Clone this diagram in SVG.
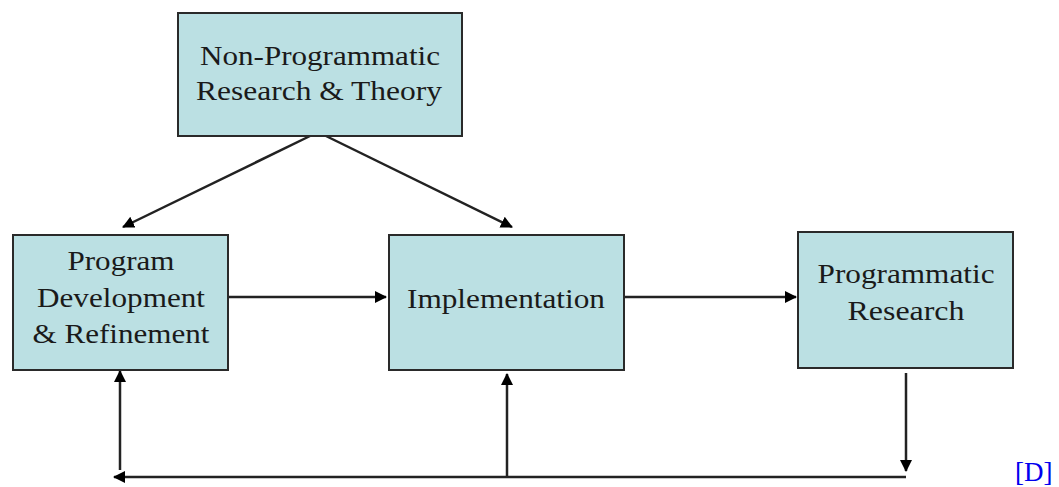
<svg xmlns="http://www.w3.org/2000/svg" width="1059" height="487" viewBox="0 0 1059 487">
<style>
.box{fill:#BBE0E3;stroke:#2a2a2a;stroke-width:2}
.lbl{font-family:"Liberation Serif","DejaVu Serif",serif;font-size:28px;fill:#1a1a1a;text-anchor:middle}
.ln{stroke:#222;stroke-width:2.5;fill:none}
</style>
<defs>
<marker id="ah" viewBox="0 0 12 12" refX="11" refY="6" markerWidth="12" markerHeight="12" markerUnits="userSpaceOnUse" orient="auto">
<path d="M0,0 L12,6 L0,12 Z" fill="#000"/>
</marker>
</defs>
<rect width="1059" height="487" fill="#fff"/>
<g id="connectors">
<line class="ln" x1="310" y1="136" x2="123" y2="227" marker-end="url(#ah)"/>
<line class="ln" x1="326" y1="136" x2="512" y2="227" marker-end="url(#ah)"/>
<line class="ln" x1="228" y1="297" x2="386" y2="297" marker-end="url(#ah)"/>
<line class="ln" x1="624" y1="297" x2="796" y2="297" marker-end="url(#ah)"/>
<line class="ln" x1="906" y1="373" x2="906" y2="471" marker-end="url(#ah)"/>
<line class="ln" x1="906" y1="477" x2="114" y2="477" marker-end="url(#ah)"/>
<line class="ln" x1="120" y1="470" x2="120" y2="371" marker-end="url(#ah)"/>
<line class="ln" x1="507" y1="477" x2="507" y2="374" marker-end="url(#ah)"/>
</g>
<g id="n1">
<rect class="box" x="178" y="13" width="284" height="123"/>
<text class="lbl" x="320" y="65" textLength="240" lengthAdjust="spacingAndGlyphs">Non-Programmatic</text>
<text class="lbl" x="319" y="100" textLength="246" lengthAdjust="spacingAndGlyphs">Research &amp; Theory</text>
</g>
<g id="n2">
<rect class="box" x="13" y="235" width="215" height="135"/>
<text class="lbl" x="121" y="270" textLength="107" lengthAdjust="spacingAndGlyphs">Program</text>
<text class="lbl" x="121" y="307" textLength="168" lengthAdjust="spacingAndGlyphs">Development</text>
<text class="lbl" x="121" y="343" textLength="177" lengthAdjust="spacingAndGlyphs">&amp; Refinement</text>
</g>
<g id="n3">
<rect class="box" x="389" y="235" width="235" height="135"/>
<text class="lbl" x="506" y="308" textLength="198" lengthAdjust="spacingAndGlyphs">Implementation</text>
</g>
<g id="n4">
<rect class="box" x="798" y="232" width="215" height="136"/>
<text class="lbl" x="906" y="283" textLength="177" lengthAdjust="spacingAndGlyphs">Programmatic</text>
<text class="lbl" x="906" y="320" textLength="117" lengthAdjust="spacingAndGlyphs">Research</text>
</g>
<text x="1015" y="481" font-family="Liberation Serif, serif" font-size="27" fill="#0000EE">[D]</text>
</svg>
